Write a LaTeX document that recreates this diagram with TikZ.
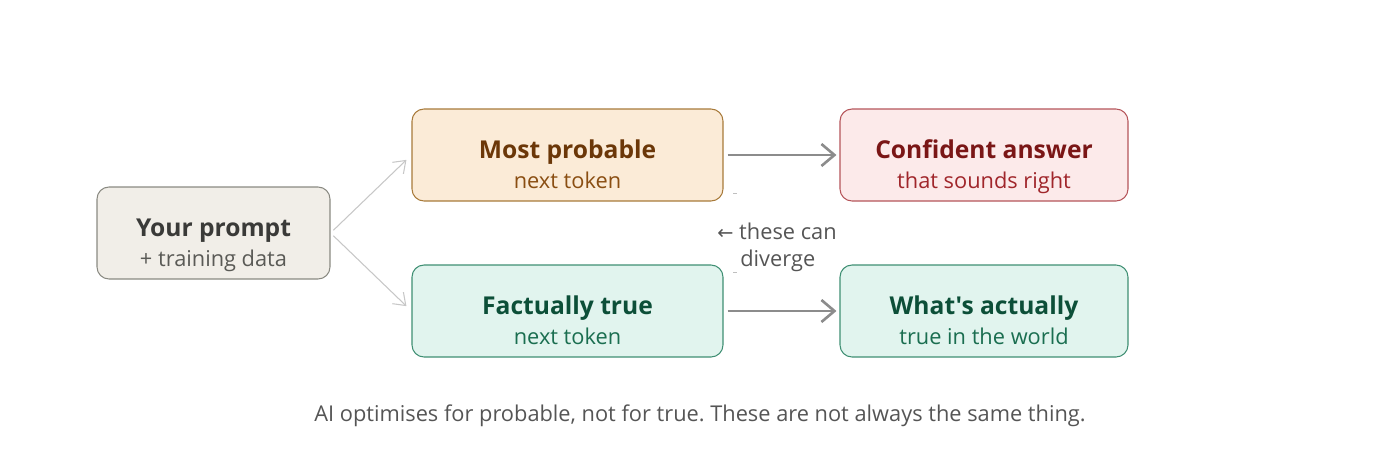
\documentclass[tikz,border=0pt]{standalone}
\usepackage{fontspec}
\setmainfont{Open Sans}[Ligatures=TeXOff]
\newfontfamily\symfont{DejaVu Sans}
\usetikzlibrary{arrows.meta}
\frenchspacing

\definecolor{promptfill}{HTML}{F1EEE8}
\definecolor{promptdraw}{HTML}{8A8A82}
\definecolor{promptText}{HTML}{3A3A38}
\definecolor{promptSub}{HTML}{5A5A56}
\definecolor{probfill}{HTML}{FBEBD7}
\definecolor{probdraw}{HTML}{A87A3A}
\definecolor{probText}{HTML}{6B3708}
\definecolor{probSub}{HTML}{8A4E12}
\definecolor{conffill}{HTML}{FCEAEA}
\definecolor{confdraw}{HTML}{B5555A}
\definecolor{confText}{HTML}{7A1616}
\definecolor{confSub}{HTML}{A0262B}
\definecolor{truefill}{HTML}{E1F4EE}
\definecolor{truedraw}{HTML}{3F8F73}
\definecolor{trueText}{HTML}{0C4F38}
\definecolor{trueSub}{HTML}{1A6E50}
\definecolor{noteText}{HTML}{555555}

% title line and small line of a card
\newcommand{\cardtitle}[2]{\rule[-0.12cm]{0pt}{0.98cm}{\fontsize{14}{17}\selectfont\bfseries\color{#1}#2}}
\newcommand{\cardsub}[2]{\rule[-0.12cm]{0pt}{0.2cm}{\fontsize{12.4}{17}\selectfont\color{#1}#2}}

\tikzset{
  card/.style={rectangle, rounded corners=0.24cm, line width=0.6pt,
               minimum height=1.84cm, align=center, inner sep=0pt,
               font=\fontsize{12}{17.5}\selectfont}
}

\begin{document}
\begin{tikzpicture}

\useasboundingbox (0,0) rectangle (28,-9.34);

\begin{scope}[every node/.style={card}]

    \node (prompt) at (4.27, -4.66) [minimum width=4.66cm, fill=promptfill, draw=promptdraw]
        {\cardtitle{promptText}{Your prompt}\\ \cardsub{promptSub}{+ training data}};

    \node (prob) at (11.35, -3.10) [minimum width=6.22cm, fill=probfill, draw=probdraw]
        {\cardtitle{probText}{Most probable}\\ \cardsub{probSub}{next token}};

    \node (conf) at (19.68, -3.10) [minimum width=5.76cm, fill=conffill, draw=confdraw]
        {\cardtitle{confText}{Confident answer}\\ \cardsub{confSub}{that sounds right}};

    \node (fact) at (11.35, -6.22) [minimum width=6.22cm, fill=truefill, draw=truedraw]
        {\cardtitle{trueText}{Factually true}\\ \cardsub{trueSub}{next token}};

    \node (world) at (19.68, -6.22) [minimum width=5.76cm, fill=truefill, draw=truedraw]
        {\cardtitle{trueText}{What's actually}\\ \cardsub{trueSub}{true in the world}};
\end{scope}

% fan out from the prompt
\begin{scope}[>={Straight Barb[length=2.2mm, width=3.2mm]},
              every edge/.style={draw=black!22, line width=0.6pt,
                                 shorten <=0.08cm, shorten >=0.14cm}]
    \path [->] (prompt.east) edge (prob.west);
    \path [->] (prompt.east) edge (fact.west);
\end{scope}

\begin{scope}[>={Straight Barb[length=2.6mm, width=4.4mm]},
              every edge/.style={draw=black!45, line width=1.5pt,
                                 shorten <=0.08cm, shorten >=0.06cm}]
    \path [->] (prob.east) edge (conf.west);
    \path [->] (fact.east) edge (world.west);
\end{scope}

% faint ticks between the two rows
\coordinate (tickA) at (14.66, -3.86);
\coordinate (tickB) at (14.66, -5.44);
\draw [black!25, line width=0.4pt] (tickA) -- ++(0.08,0);
\draw [black!25, line width=0.4pt] (tickB) -- ++(0.08,0);

\node (note) at (14.34, -4.95) [anchor=west, align=left, text=noteText,
      font=\fontsize{12.4}{15.5}\selectfont, inner sep=0pt]
      {{\symfont\fontsize{11}{15.5}\selectfont ←} these can\\\hspace{0.46cm}diverge};

\node (caption) at (14.0, -8.32) [text=noteText, font=\fontsize{12.4}{15}\selectfont]
      {AI optimises for probable, not for true. These are not always the same thing.};

\end{tikzpicture}
\end{document}
